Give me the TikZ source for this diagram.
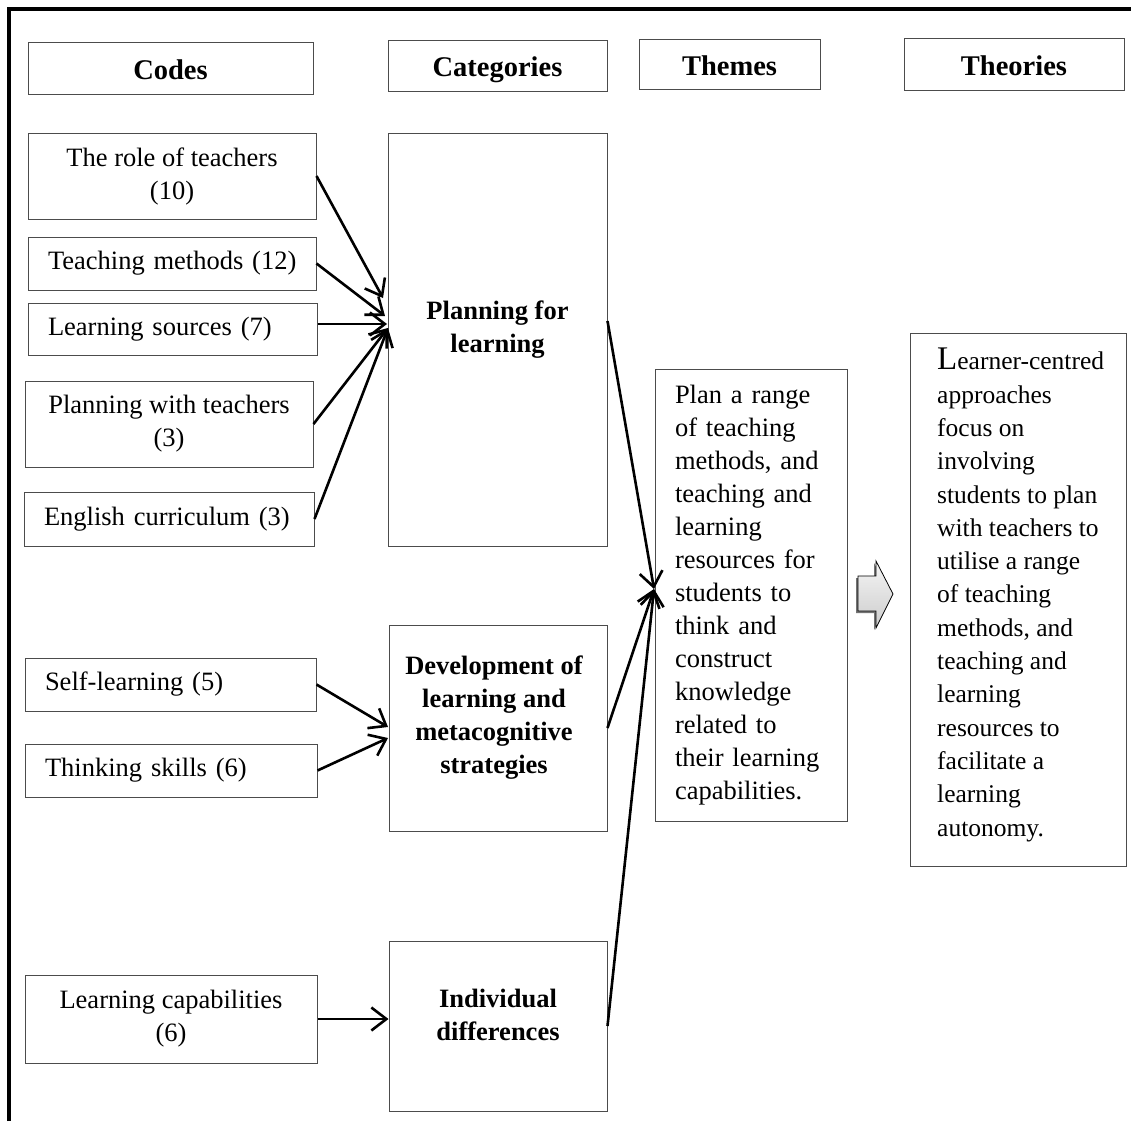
\documentclass[tikz,border=0pt]{standalone}
\usepackage{fontspec}
\setmainfont{Liberation Serif}
\usetikzlibrary{arrows.meta,calc}
\newcommand\myfs{\fontsize{26.5}{33}\selectfont}
\newcommand\mytfs{\fontsize{25.5}{33.3}\selectfont}
\newcommand\myhfs{\fontsize{28.5}{34}\selectfont\bfseries}
\begin{document}
\begin{tikzpicture}[x=1pt,y=-1pt,
  box/.style={draw=black!70, line width=1pt, rectangle, inner sep=0pt, font=\myfs, align=center},
  sz/.style 2 args={minimum width=#1pt, minimum height=#2pt},
  hdr/.style={box, font=\myhfs, text height=22pt, text depth=1pt},
  leftbox/.style={box, align=left, inner xsep=20pt, text width=#1},
  cattext/.style={inner sep=0pt, font=\myfs\bfseries, align=center},
  conn/.style={line width=2.6pt, -{Straight Barb[length=15pt,width=23pt]}}
]
\useasboundingbox (0,0) rectangle (1131,1121);
% frame
\draw[line width=3.4pt] (9,1121) -- (9,9) -- (1131,9);

% headers
\node[hdr, sz={285}{52}] (hcodes) at (170.5,69) {Codes};
\node[hdr, sz={219}{51}] (hcat) at (497.5,66) {Categories};
\node[hdr, sz={181}{50}] (hthemes) at (729.5,65) {Themes};
\node[hdr, sz={220}{52}] (htheo) at (1014,65) {Theories};

% codes
\node[box, sz={288}{86}] (role) at (172,176) {The role of teachers\\(10)};
\node[leftbox=248pt, minimum height=53pt] (tmeth) at (172,263.5) {\mbox{Teaching methods (12)}};
\node[leftbox=249pt, minimum height=52pt] (lsrc) at (172.5,329) {\mbox{Learning sources (7)}};
\node[box, sz={288}{86}] (pwt) at (169,424) {Planning with teachers\\(3)};
\node[leftbox=250pt, minimum height=54pt] (engc) at (169,519) {\mbox{English curriculum (3)}};
\node[leftbox=251pt, minimum height=53pt] (selfl) at (170.5,684.5) {\mbox{Self-learning (5)}};
\node[leftbox=252pt, minimum height=53pt] (think) at (171,770.5) {\mbox{Thinking skills (6)}};
\node[box, sz={292}{88}] (lcap) at (171,1019) {Learning capabilities\\(6)};

% categories
\node[box, sz={219}{413}] (plan) at (497.5,339.5) {};
\node[cattext] (plant) at (497.5,329.5) {Planning for\\learning};
\node[box, sz={218}{206}] (dev) at (498,728) {};
\node[cattext] (devt) at (494,718) {Development of\\learning and\\metacognitive\\strategies};
\node[box, sz={218}{170}] (indiv) at (498,1026) {};
\node[cattext] (indivt) at (498,1015) {Individual\\differences};

% theme
\node[box, sz={192}{452}, align=left, text width=152pt] (theme) at (751,595) {Plan a range\\of teaching\\methods, and\\teaching and\\learning\\resources for\\students to\\think and\\construct\\knowledge\\related to\\their learning\\capabilities.};

% theories
\node[box, sz={216}{533}] (theo) at (1018,599.5) {};
\node[anchor=north west, inner sep=0pt, font=\mytfs, align=left] (theot) at (937,348) {{\fontsize{33}{33}\selectfont L}earner-centred\\approaches\\focus on\\involving\\students to plan\\with teachers to\\utilise a range\\of teaching\\methods, and\\teaching and\\learning\\resources to\\facilitate a\\learning\\autonomy.};

% big block arrow
\fill[black!55] (856,578) -- (874,578) -- (874,563) -- (891,596) -- (874,630) -- (874,613) -- (856,613) -- cycle;
\shade[top color=gray!8, bottom color=gray!40, draw=black, line width=0.8pt] (858,576) -- (876,576) -- (876,561) -- (893,594) -- (876,628) -- (876,611) -- (858,611) -- cycle;

% connector end points
\coordinate (e1) at (383,298);
\coordinate (e2) at (385,316);
\coordinate (e3) at (387,324);
\coordinate (e4) at (388,328);
\coordinate (e5) at (388,727);
\coordinate (e6) at (388,738);
\coordinate (t1) at (654,589);

\draw[conn] (role.east) -- (e1);
\draw[conn] (tmeth.east) -- (e2);
\draw[conn] (lsrc.east |- e3) -- (e3);
\draw[conn] (pwt.east) -- (e4);
\draw[conn] (engc.east) -- (e4);
\draw[conn] (selfl.east) -- (e5);
\draw[conn] (think.east) -- (e6);
\draw[conn] (lcap.east) -- (lcap.east -| indiv.west);
\draw[conn] (plan.east |- 0,321) -- (t1);
\draw[conn] (dev.east) -- (t1);
\draw[conn] (indiv.east) -- (t1);
\end{tikzpicture}
\end{document}
